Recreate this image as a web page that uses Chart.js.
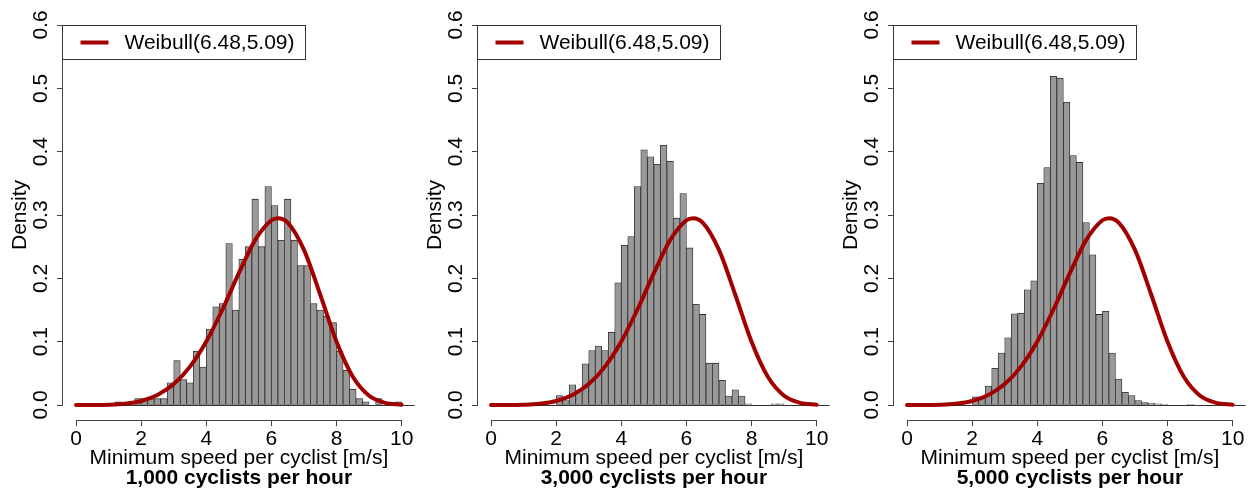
<!DOCTYPE html>
<html><head><meta charset="utf-8">
<script src="https://cdn.jsdelivr.net/npm/chart.js@4.4.0/dist/chart.umd.min.js"></script>
<style>
html,body{margin:0;padding:0;background:#fff;}
#wrap{position:relative;width:1255px;height:493px;overflow:hidden;background:#fff;}
.panel{position:absolute;top:0;width:418px;height:493px;}
canvas{display:block;}
</style></head><body>
<div id="wrap">
<div class="panel" style="left:0px"><canvas id="c1" width="418" height="493"></canvas></div>
<div class="panel" style="left:415px"><canvas id="c2" width="418" height="493"></canvas></div>
<div class="panel" style="left:831px"><canvas id="c3" width="418" height="493"></canvas></div>
</div>
<script>
// ---- data ----
const binCenters = [0.1,0.3,0.5,0.7,0.9,1.1,1.3,1.5,1.7,1.9,2.1,2.3,2.5,2.7,2.9,3.1,3.3,3.5,3.7,3.9,
  4.1,4.3,4.5,4.7,4.9,5.1,5.3,5.5,5.7,5.9,6.1,6.3,6.5,6.7,6.9,7.1,7.3,7.5,7.7,7.9,
  8.1,8.3,8.5,8.7,8.9,9.1,9.3,9.5,9.7,9.9];
const hist1000 = [0,0,0,0,0,0,0.005,0,0,0.01, 0.01,0.01,0.01,0.01,0.035,0.07,0.04,0.035,0.085,0.06,
  0.12,0.155,0.16,0.255,0.15,0.23,0.25,0.325,0.25,0.345, 0.315,0.26,0.325,0.26,0.22,0.22,0.16,0.15,0.14,0.13,
  0.085,0.055,0.025,0.01,0.005,0,0.01,0,0,0.005];
const hist3000 = [0,0,0,0,0.003,0,0,0,0,0, 0.015,0.007,0.032,0.023,0.065,0.086,0.093,0.086,0.115,0.193,
  0.252,0.266,0.345,0.403,0.392,0.38,0.41,0.385,0.295,0.334, 0.248,0.159,0.143,0.066,0.066,0.039,0.014,0.024,0.014,0.002,
  0,0,0,0.002,0.002,0,0,0,0,0];
const hist5000 = [0,0,0,0,0,0,0,0,0,0, 0.013,0.013,0.03,0.058,0.082,0.106,0.144,0.145,0.182,0.196,
  0.35,0.375,0.519,0.516,0.478,0.394,0.383,0.288,0.237,0.143, 0.148,0.082,0.041,0.02,0.015,0.007,0.004,0.003,0.002,0.001,
  0,0,0,0.001,0,0,0,0,0,0];
const curveX = [0,0.5,1,1.5,2,2.5,3,3.5,4,4.5,5,5.5,6,6.2,6.5,7,7.5,8,8.5,9,9.5,10];
const curveY = [0,0.00002,0.0004,0.002,0.0064,0.0159,0.033,0.0606,0.1002,0.1512,0.2082,0.2603,0.2917,0.295,
  0.288,0.2449,0.1741,0.1000,0.0446,0.0147,0.0034,0.0005];
const xTicks = [0,2,4,6,8,10];
const yTicks = [0,0.1,0.2,0.3,0.4,0.5,0.6];
const yTickLabels = ['0.0','0.1','0.2','0.3','0.4','0.5','0.6'];
const panelTitles = ['1,000 cyclists per hour','3,000 cyclists per hour','5,000 cyclists per hour'];
const legendLabel = 'Weibull(6.48,5.09)';
const xTitle = 'Minimum speed per cyclist [m/s]';
const yTitle = 'Density';

// ---- style ----
const FONT = '"Liberation Sans", Arial, Helvetica, sans-serif';
const RED = '#a20000';
const AXIS = '#444444';

const rAxes = {
  id: 'rAxes',
  beforeDatasetsDraw(chart) {
    const {ctx, chartArea: a, scales: {x, y}} = chart;
    ctx.save();
    ctx.strokeStyle = '#333333'; ctx.lineWidth = 1;
    const y0 = Math.round(y.getPixelForValue(0)) + 0.5;
    ctx.beginPath(); ctx.moveTo(x.getPixelForValue(0), y0); ctx.lineTo(a.right, y0); ctx.stroke();
    ctx.restore();
  },
  afterDraw(chart) {
    const {ctx, chartArea: a, scales: {x, y}} = chart;
    ctx.save();
    ctx.strokeStyle = AXIS; ctx.lineWidth = 1;
    const xb = Math.round(a.bottom) + 0.5;
    ctx.beginPath(); ctx.moveTo(x.getPixelForValue(xTicks[0]), xb); ctx.lineTo(x.getPixelForValue(xTicks[xTicks.length-1]), xb); ctx.stroke();
    const yl = Math.round(a.left) - 0.5;
    ctx.beginPath(); ctx.moveTo(yl, y.getPixelForValue(yTicks[0])); ctx.lineTo(yl, y.getPixelForValue(yTicks[yTicks.length-1])); ctx.stroke();
    // legend
    const top = Math.round(y.getPixelForValue(0.6)) + 0.5;
    const left = Math.round(a.left) - 0.5;
    const w = 243, h = 34;
    ctx.fillStyle = '#ffffff';
    ctx.fillRect(left, top, w, h);
    ctx.strokeStyle = '#333333';
    ctx.strokeRect(left, top, w, h);
    const ds = chart.data.datasets.find(d => d.type === 'line');
    ctx.strokeStyle = ds.borderColor; ctx.lineWidth = 4;
    ctx.beginPath(); ctx.moveTo(left + 18, top + 17); ctx.lineTo(left + 46, top + 17); ctx.stroke();
    ctx.fillStyle = '#000';
    ctx.font = '21px ' + FONT;
    ctx.textBaseline = 'middle'; ctx.textAlign = 'left';
    ctx.fillText(ds.label, left + 62, top + 18);
    ctx.restore();
  }
};

function makeChart(id, hist, title) {
  new Chart(document.getElementById(id), {
    type: 'bar',
    data: {
      datasets: [
        { type: 'line', label: legendLabel,
          data: curveX.map((v, i) => ({x: v, y: curveY[i]})),
          borderColor: RED, borderWidth: 4, pointRadius: 0, fill: false,
          cubicInterpolationMode: 'monotone', order: 0, borderCapStyle: 'round' },
        { type: 'bar', label: 'hist',
          data: binCenters.map((v, i) => ({x: v, y: hist[i]})),
          backgroundColor: '#999999', borderColor: '#2a2a2a', borderWidth: 0.8,
          borderSkipped: false, barPercentage: 1, categoryPercentage: 1, grouped: false, order: 1 }
      ]
    },
    options: {
      responsive: false, animation: false, devicePixelRatio: 1,
      layout: {padding: {top: 9.8, right: 3.3, left: 0, bottom: 0}},
      plugins: {
        legend: {display: false}, tooltip: {enabled: false},
        title: {display: true, text: title, position: 'bottom', fullSize: false, color: '#000',
          font: {family: FONT, size: 21, weight: 'bold', lineHeight: 1}, padding: {top: 0, bottom: 4.5}}
      },
      scales: {
        x: {
          type: 'linear', min: -0.4, max: 10.4, offset: false,
          afterBuildTicks: s => { s.ticks = xTicks.map(v => ({value: v})); },
          afterFit: s => { s.height = 47.3; s.paddingLeft = 0; s.paddingRight = 0; },
          grid: {display: true, offset: false, drawOnChartArea: false, drawTicks: true, tickLength: 6, color: AXIS, lineWidth: 1},
          border: {display: false},
          ticks: {autoSkip: false, maxRotation: 0, minRotation: 0, color: '#000', font: {family: FONT, size: 21}, padding: 0,
            callback: v => String(v)},
          title: {display: true, text: xTitle, color: '#000', font: {family: FONT, size: 21, lineHeight: 1}, padding: {top: 0, bottom: -1.5}}
        },
        y: {
          type: 'linear', min: -0.024, max: 0.624,
          afterBuildTicks: s => { s.ticks = yTicks.map(v => ({value: v})); },
          afterFit: s => { s.width = 63; s.paddingTop = 0; s.paddingBottom = 0; },
          grid: {display: true, drawOnChartArea: false, drawTicks: true, tickLength: 6, color: AXIS, lineWidth: 1},
          border: {display: false},
          ticks: {minRotation: 90, maxRotation: 90, crossAlign: 'center', padding: 1, color: '#000',
            font: {family: FONT, size: 21}, callback: v => yTickLabels[yTicks.indexOf(v)]},
          title: {display: true, text: yTitle, color: '#000', font: {family: FONT, size: 21, lineHeight: 1}, padding: {top: 10, bottom: 0}}
        }
      }
    },
    plugins: [rAxes]
  });
}
makeChart('c1', hist1000, panelTitles[0]);
makeChart('c2', hist3000, panelTitles[1]);
makeChart('c3', hist5000, panelTitles[2]);
</script>
</body></html>
